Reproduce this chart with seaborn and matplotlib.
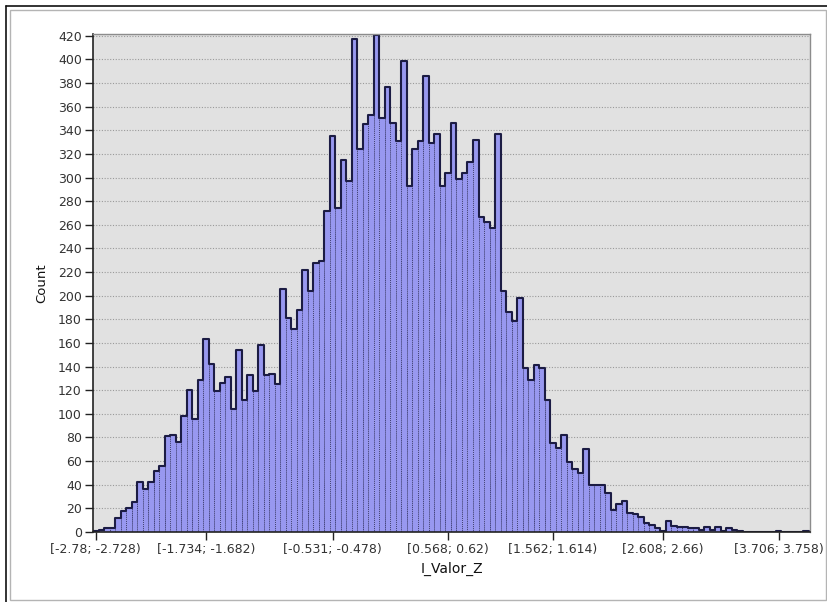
import numpy as np
import pandas as pd
import matplotlib
matplotlib.use("Agg")
import matplotlib.pyplot as plt
import seaborn as sns
from matplotlib.lines import Line2D
from matplotlib.patches import Rectangle

# ---- data ----
bin_start = -2.78
bin_width = 0.052306
counts = [
    1, 2, 3, 3, 12, 18, 20, 25, 42, 36,
    42, 52, 56, 81, 82, 76, 98, 120, 96, 129,
    163, 142, 119, 126, 131, 104, 154, 112, 133, 119,
    158, 133, 134, 125, 206, 181, 172, 188, 222, 204,
    228, 229, 272, 335, 274, 315, 297, 417, 324, 345,
    353, 421, 350, 377, 346, 331, 399, 293, 324, 331,
    386, 329, 337, 293, 304, 346, 299, 304, 313, 332,
    267, 262, 257, 337, 204, 186, 179, 198, 139, 129,
    141, 139, 112, 75, 71, 82, 59, 53, 50, 70,
    40, 40, 40, 33, 19, 24, 26, 16, 15, 13,
    8, 6, 3, 1, 9, 5, 4, 4, 3, 3,
    2, 4, 2, 4, 1, 3, 2, 1, 0, 0,
    0, 0, 0, 0, 1, 0, 0, 0, 0, 1,
]
tick_bins = [0, 20, 43, 64, 83, 103, 124]
tick_labels = ["[-2.78; -2.728)", "[-1.734; -1.682)", "[-0.531; -0.478)",
               "[0.568; 0.62)", "[1.562; 1.614)", "[2.608; 2.66)", "[3.706; 3.758)"]
y_ticks = list(range(0, 421, 20))
x_label = "I_Valor_Z"
y_label = "Count"

n = len(counts)
edges = bin_start + bin_width * np.arange(n + 1)
centers = (edges[:-1] + edges[1:]) / 2
df = pd.DataFrame({"x": centers, "count": counts})
edge_list = [float(e) for e in edges]

sns.set_theme(style="white")
plt.rcParams["font.family"] = ["DejaVu Sans"]

W, H = 827, 602
fig = plt.figure(figsize=(W / 100, H / 100), dpi=100)
fig.patch.set_facecolor("white")
ax = fig.add_axes([93 / W, 1 - 532 / H, (810 - 93) / W, (532 - 34) / H])
ax.set_facecolor("#e1e1e1")

# horizontal dotted grid
ax.set_axisbelow(True)
ax.yaxis.grid(True, color="#9a9a9a", linestyle=(0, (1, 1.5)), linewidth=0.8)
ax.xaxis.grid(False)

sns.histplot(data=df, x="x", weights="count", bins=edge_list, ax=ax,
             element="bars", color="#9898f0", alpha=1.0,
             edgecolor="#40407a", linewidth=0.7, linestyle=(0, (1, 1)))
sns.histplot(data=df, x="x", weights="count", bins=edge_list, ax=ax,
             element="step", fill=False, color="#1c1c44", linewidth=1.5)

ax.set_xlim(edges[0], edges[-1] + 0.01)
ax.set_ylim(0, 421.5)
ax.set_yticks(y_ticks)
ax.set_yticklabels([str(v) for v in y_ticks])
ax.set_xticks([centers[i] for i in tick_bins])
ax.set_xticklabels(tick_labels)

ax.tick_params(axis="both", which="both", direction="out", length=6, width=1,
               color="#222222", labelsize=9, labelcolor="#333333", pad=2,
               bottom=True, left=True)

for side in ["left", "bottom"]:
    ax.spines[side].set_color("#222222")
    ax.spines[side].set_linewidth(1.2)
for side in ["top", "right"]:
    ax.spines[side].set_color("#8c8c8c")
    ax.spines[side].set_linewidth(1.0)

ax.set_xlabel(x_label, fontsize=10, color="#111111", labelpad=4)
ax.set_ylabel(y_label, fontsize=9.5, color="#111111", labelpad=7)

# outer frames of the screenshot
def fx(px):
    return px / W

def fy(py):
    return 1 - py / H

fig.lines.append(Line2D([fx(6), fx(W)], [fy(6), fy(6)], transform=fig.transFigure,
                        color="#111111", linewidth=1.2))
fig.lines.append(Line2D([fx(6), fx(6)], [fy(6), fy(H)], transform=fig.transFigure,
                        color="#111111", linewidth=1.2))
fig.patches.append(Rectangle((fx(10), fy(600)), fx(826) - fx(10), fy(10) - fy(600),
                             transform=fig.transFigure, fill=False,
                             edgecolor="#b4b4b4", linewidth=1.0))

fig.savefig("out.png", dpi=100, facecolor="white")
